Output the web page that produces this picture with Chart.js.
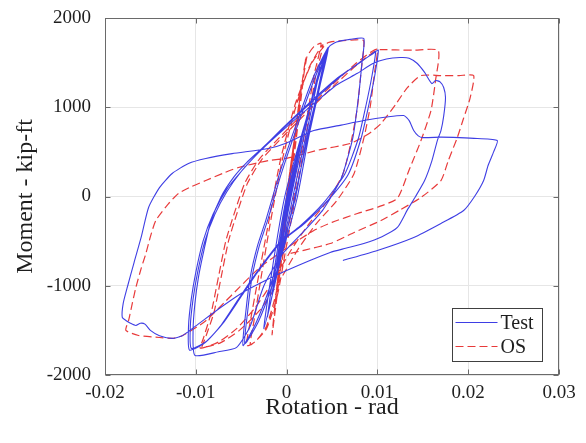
<!DOCTYPE html>
<html>
<head>
<meta charset="utf-8">
<script src="https://cdn.jsdelivr.net/npm/chart.js@4/dist/chart.umd.min.js"></script>
<style>
  html, body { margin: 0; padding: 0; background: #fff; }
  canvas { display: block; }
</style>
</head>
<body>
<canvas id="hysteresis-chart" width="586" height="443"></canvas>
<script>
// axis ticks
const xTicks = [-0.02, -0.01, 0, 0.01, 0.02, 0.03];
const yTicks = [-2000, -1000, 0, 1000, 2000];

// test record, [rotation rad, moment kip-ft]
const testLoop = [
  [0, 0], [0.0012, 450], [0.0003, 0], [-0.0006, -450], [0.0002, 0],
  [0.0020, 800], [0.0004, 0], [-0.0011, -800], [0.0002, 0],
  [0.0029, 1150], [0.0005, 0], [-0.0016, -1100], [0.0001, 0],
  [0.0037, 1450], [0.0007, 0], [-0.0021, -1350], [0.0000, 0],
  [0.0043, 1620], [0.0009, 0], [-0.0025, -1480], [-0.0002, 0], [0.0045, 1660],
  [0.0036, 1250], [0.0022, 650], [0.0010, 0], [-0.0003, -500], [-0.0018, -1000], [-0.0033, -1400], [-0.0048, -1670],
  [-0.0045, -1300], [-0.0040, -900], [-0.0032, -550], [-0.0023, -270], [-0.0008, 250], [0.0012, 850], [0.0030, 1350], [0.0046, 1670],
  [0.0037, 1250], [0.0024, 650], [0.0012, 0], [-0.0001, -500], [-0.0016, -1000], [-0.0031, -1400], [-0.0046, -1650],
  [-0.0043, -1300], [-0.0038, -900], [-0.0030, -550], [-0.0021, -270], [-0.0006, 250], [0.0014, 850], [0.0032, 1350], [0.0047, 1680],
  [0.0055, 1730], [0.0070, 1760], [0.0085, 1770],
  [0.0083, 1500], [0.0079, 1100], [0.0073, 660], [0.0060, 200], [0.0040, -150], [0.0018, -400], [-0.0005, -650],
  [-0.0025, -1000], [-0.0040, -1450], [-0.0055, -1690], [-0.0075, -1740], [-0.0101, -1780],
  [-0.0103, -1500], [-0.0101, -1200], [-0.0097, -900], [-0.0091, -600], [-0.0084, -300], [-0.0072, 0], [-0.0058, 220],
  [-0.0044, 380], [-0.0026, 550], [0.0000, 800], [0.0030, 1080], [0.0060, 1350], [0.0080, 1500], [0.0095, 1600], [0.0101, 1640],
  [0.0097, 1350], [0.0090, 1000], [0.0082, 650], [0.0068, 250], [0.0045, -50], [0.0020, -300], [-0.0005, -500],
  [-0.0030, -820], [-0.0050, -1120], [-0.0070, -1420], [-0.0088, -1620], [-0.0105, -1700],
  [-0.0106, -1450], [-0.0103, -1150], [-0.0098, -850], [-0.0090, -500], [-0.0079, -200], [-0.0066, 50], [-0.0050, 280],
  [-0.0032, 480], [-0.0005, 760], [0.0025, 1050], [0.0055, 1320], [0.0078, 1480], [0.0093, 1590], [0.0098, 1625],
  [0.0094, 1350], [0.0087, 1000], [0.0079, 650], [0.0064, 250], [0.0040, -80], [0.0015, -330], [-0.0008, -520],
  [-0.0033, -850], [-0.0053, -1150], [-0.0072, -1440], [-0.0090, -1640], [-0.0107, -1720],
  [-0.0108, -1450], [-0.0105, -1150], [-0.0100, -850], [-0.0092, -500], [-0.0081, -200], [-0.0066, 80], [-0.0050, 280],
  [-0.0030, 500], [0.0000, 780], [0.0030, 1040], [0.0055, 1250], [0.0078, 1380], [0.0095, 1490], [0.0110, 1540],
  [0.0125, 1557], [0.0135, 1550], [0.0144, 1490], [0.0152, 1390], [0.0160, 1265], [0.0164, 1300], [0.0169, 1285],
  [0.0173, 1221], [0.0175, 1109], [0.0173, 900], [0.0170, 739], [0.0166, 627], [0.0160, 400], [0.0152, 179],
  [0.0142, 0], [0.0133, -150], [0.0122, -347], [0.0105, -450], [0.0085, -526], [0.0065, -580], [0.0048, -627],
  [0.0025, -720], [0.0000, -830], [-0.0025, -950], [-0.0050, -1086], [-0.0075, -1260], [-0.0100, -1450],
  [-0.0115, -1560], [-0.0126, -1590], [-0.0140, -1560], [-0.0150, -1500], [-0.0156, -1430], [-0.0161, -1420],
  [-0.0166, -1445], [-0.0172, -1420], [-0.0177, -1389], [-0.0181, -1355], [-0.0180, -1200], [-0.0175, -1000],
  [-0.0168, -740], [-0.0160, -450], [-0.0152, -123], [-0.0140, 100], [-0.0126, 258], [-0.0108, 370], [-0.0089, 426],
  [-0.0060, 480], [-0.0020, 538], [0.0000, 600], [0.0030, 739], [0.0060, 800], [0.0085, 851], [0.0110, 890],
  [0.0129, 907], [0.0135, 850], [0.0140, 739], [0.0145, 680], [0.0150, 660], [0.0170, 665], [0.0190, 660],
  [0.0210, 650], [0.0232, 627], [0.0228, 500], [0.0222, 350], [0.0217, 179], [0.0207, 0], [0.0195, -157],
  [0.0170, -302], [0.0140, -459], [0.0100, -605], [0.0062, -717]
];

// OpenSees model, [rotation rad, moment kip-ft]
const osLoop = [
  [0, 0], [0.0006, 450], [0.0001, 0], [-0.0005, -450], [0.0001, 0],
  [0.0011, 850], [0.0002, 0], [-0.0009, -850], [0.0001, 0],
  [0.0016, 1250], [0.0002, 0], [-0.0013, -1250], [0.0000, 0],
  [0.0021, 1550], [0.0003, 0], [-0.0016, -1550], [0.0000, 0],
  [0.0022, 1550], [0.0030, 1680], [0.0038, 1715],
  [0.0030, 1350], [0.0018, 600], [0.0008, 0], [-0.0003, -600], [-0.0012, -1100], [-0.0022, -1450], [-0.0032, -1600], [-0.0040, -1660],
  [-0.0036, -1400], [-0.0028, -900], [-0.0018, -300], [-0.0005, 400], [0.0010, 1000], [0.0025, 1450], [0.0040, 1700],
  [0.0032, 1350], [0.0020, 600], [0.0010, 0], [-0.0001, -600], [-0.0010, -1100], [-0.0022, -1480], [-0.0035, -1630], [-0.0044, -1670],
  [-0.0040, -1400], [-0.0031, -900], [-0.0020, -300], [-0.0007, 400], [0.0010, 1050], [0.0028, 1500], [0.0045, 1720],
  [0.0060, 1745], [0.0075, 1755], [0.0085, 1745],
  [0.0082, 1400], [0.0078, 1000], [0.0072, 660], [0.0062, 250], [0.0045, -50], [0.0025, -300], [0.0005, -600],
  [-0.0015, -950], [-0.0035, -1250], [-0.0055, -1480], [-0.0075, -1630], [-0.0095, -1700],
  [-0.0092, -1600], [-0.0083, -1300], [-0.0075, -900], [-0.0067, -500], [-0.0058, -200], [-0.0046, 150], [-0.0030, 420],
  [-0.0008, 660], [0.0020, 950], [0.0050, 1250], [0.0075, 1480], [0.0093, 1620], [0.0100, 1650],
  [0.0097, 1400], [0.0092, 1000], [0.0085, 650], [0.0074, 250], [0.0055, -50], [0.0033, -300], [0.0012, -600],
  [-0.0008, -950], [-0.0030, -1280], [-0.0052, -1500], [-0.0073, -1640], [-0.0093, -1690],
  [-0.0090, -1600], [-0.0080, -1300], [-0.0072, -900], [-0.0064, -500], [-0.0055, -200], [-0.0043, 150], [-0.0027, 420],
  [-0.0005, 660], [0.0023, 950], [0.0053, 1250], [0.0078, 1480], [0.0096, 1620], [0.0103, 1645],
  [0.0120, 1642], [0.0140, 1640], [0.0167, 1635],
  [0.0164, 1300], [0.0159, 963], [0.0148, 627], [0.0135, 300], [0.0122, -20], [0.0100, -120], [0.0078, -190],
  [0.0050, -290], [0.0030, -381], [0.0001, -571], [-0.0030, -800], [-0.0060, -1100], [-0.0090, -1400],
  [-0.0115, -1560], [-0.0126, -1590], [-0.0140, -1580], [-0.0163, -1557], [-0.0177, -1500],
  [-0.0174, -1389], [-0.0170, -1200], [-0.0166, -1019], [-0.0160, -800], [-0.0155, -640], [-0.0150, -450],
  [-0.0144, -269], [-0.0130, -80], [-0.0119, 34], [-0.0105, 110], [-0.0089, 179], [-0.0070, 260], [-0.0053, 325],
  [-0.0020, 403], [0.0001, 430], [0.0035, 520], [0.0070, 594], [0.0090, 700], [0.0104, 818], [0.0120, 1030],
  [0.0133, 1220], [0.0148, 1355], [0.0170, 1355], [0.0190, 1355], [0.0206, 1355],
  [0.0202, 1100], [0.0195, 880], [0.0188, 661], [0.0178, 400], [0.0170, 179], [0.0148, -11], [0.0125, -150],
  [0.0104, -269], [0.0075, -400], [0.0048, -527], [0.0020, -600], [0.0004, -638]
];

const serif = "'Liberation Serif', 'Times New Roman', serif";
const textColor = "#1e1e1e";

function toPoints(loop) {
  return loop.map(([x, y]) => ({ x: x, y: y }));
}

// box, inward tick marks and the legend, drawn like the original figure
const framePlugin = {
  id: "frame",
  afterDatasetsDraw(chart) {
    const { ctx, chartArea: a, scales } = chart;
    const left = Math.round(a.left) + 0.5;
    const right = Math.round(a.right) - 0.5;
    const top = Math.round(a.top) + 0.5;
    const bottom = Math.round(a.bottom) - 0.5;
    ctx.save();
    ctx.strokeStyle = "#6a6a6a";
    ctx.lineWidth = 1;
    ctx.setLineDash([]);
    ctx.strokeRect(left, top, right - left, bottom - top);

    ctx.beginPath();
    scales.x.ticks.forEach((t) => {
      const px = Math.round(scales.x.getPixelForValue(t.value)) + 0.5;
      ctx.moveTo(px, bottom);
      ctx.lineTo(px, bottom - 5);
      ctx.moveTo(px, top);
      ctx.lineTo(px, top + 5);
    });
    scales.y.ticks.forEach((t) => {
      const py = Math.round(scales.y.getPixelForValue(t.value)) + 0.5;
      ctx.moveTo(left, py);
      ctx.lineTo(left + 5, py);
      ctx.moveTo(right, py);
      ctx.lineTo(right - 5, py);
    });
    ctx.stroke();

    // legend in the lower right corner
    const lx = Math.round(a.right) - 106.5;
    const ly = Math.round(a.bottom) - 66.5;
    ctx.fillStyle = "#fff";
    ctx.fillRect(lx, ly, 90, 53);
    ctx.strokeStyle = "#404040";
    ctx.strokeRect(lx, ly, 90, 53);
    chart.data.datasets.forEach((ds, i) => {
      const yy = ly + 14 + i * 24;
      ctx.beginPath();
      ctx.strokeStyle = ds.borderColor;
      ctx.lineWidth = ds.borderWidth;
      ctx.setLineDash(ds.borderDash || []);
      ctx.moveTo(lx + 3, yy);
      ctx.lineTo(lx + 45, yy);
      ctx.stroke();
      ctx.setLineDash([]);
      ctx.fillStyle = textColor;
      ctx.font = "20px " + serif;
      ctx.textBaseline = "middle";
      ctx.textAlign = "left";
      ctx.fillText(ds.label, lx + 48, yy + 1);
    });
    ctx.restore();
  },
};

new Chart(document.getElementById("hysteresis-chart"), {
  type: "scatter",
  data: {
    datasets: [
      {
        label: "Test",
        data: toPoints(testLoop),
        showLine: true,
        borderColor: "rgb(62,62,228)",
        borderWidth: 1.1,
        pointRadius: 0,
        tension: 0.2,
        fill: false,
      },
      {
        label: "OS",
        data: toPoints(osLoop),
        showLine: true,
        borderColor: "rgb(232,58,58)",
        borderWidth: 1.2,
        borderDash: [8, 4],
        pointRadius: 0,
        tension: 0.2,
        fill: false,
      },
    ],
  },
  options: {
    responsive: false,
    animation: false,
    layout: { padding: { top: 18, right: 27, left: 0, bottom: 0 } },
    plugins: {
      legend: { display: false },
      tooltip: { enabled: false },
    },
    scales: {
      x: {
        type: "linear",
        min: -0.02,
        max: 0.03,
        afterBuildTicks: (s) => { s.ticks = xTicks.map((v) => ({ value: v })); },
        afterFit: (s) => { s.height = 68; s.paddingLeft = 0; s.paddingRight = 0; },
        grid: { color: "#e6e6e6", drawTicks: false },
        border: { display: false },
        ticks: {
          padding: 7,
          color: textColor,
          font: { family: serif, size: 19 },
          callback: (v) => String(v),
        },
        title: {
          display: true,
          text: "Rotation - rad",
          color: textColor,
          font: { family: serif, size: 24 },
          padding: { top: 0, bottom: 21 },
        },
      },
      y: {
        type: "linear",
        min: -2000,
        max: 2000,
        afterBuildTicks: (s) => { s.ticks = yTicks.map((v) => ({ value: v })); },
        afterFit: (s) => { s.width = 105; s.paddingTop = 0; s.paddingBottom = 0; },
        grid: { color: "#e6e6e6", drawTicks: false },
        border: { display: false },
        ticks: {
          padding: 14,
          color: textColor,
          font: { family: serif, size: 19 },
          callback: (v) => String(v),
        },
        title: {
          display: true,
          text: "Moment - kip-ft",
          color: textColor,
          font: { family: serif, size: 24 },
          padding: { top: 11, bottom: 0 },
        },
      },
    },
  },
  plugins: [framePlugin],
});
</script>
</body>
</html>
